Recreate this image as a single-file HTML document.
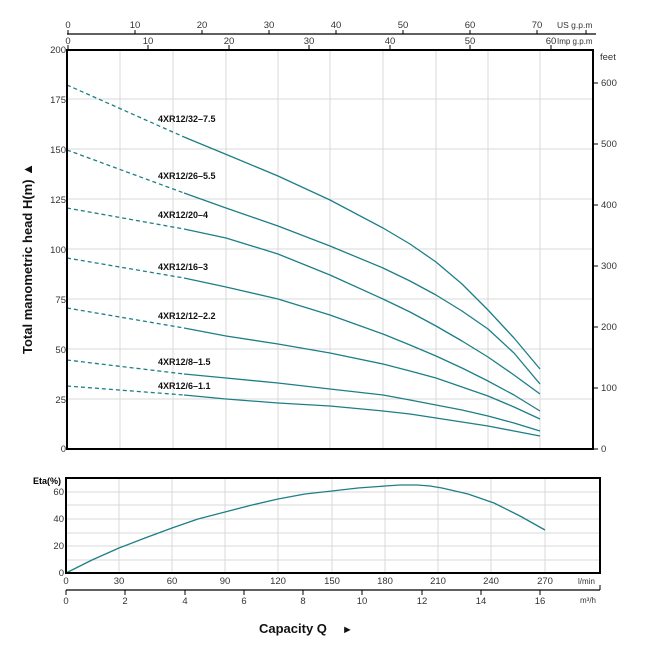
<!DOCTYPE html>
<html><head><meta charset="utf-8"><style>
html,body{margin:0;padding:0;background:#fff;}
svg{display:block;font-family:"Liberation Sans",Arial,sans-serif;}
</style></head><body>
<svg width="650" height="650" viewBox="0 0 650 650" xmlns="http://www.w3.org/2000/svg">
<g stroke="#d8d8d8" stroke-width="1" fill="none">
<path d="M120 49V449M173 49V449M226 49V449M278 49V449M330 49V449M383 49V449M436 49V449M488 49V449M540 49V449"/>
<path d="M67 99H593M67 149H593M67 199H593M67 249H593M67 299H593M67 349H593M67 399H593"/>
<path d="M119 478V573M172 478V573M225 478V573M278 478V573M332 478V573M385 478V573M438 478V573M491 478V573M545 478V573"/>
<path d="M66 492H600M66 505H600M66 519H600M66 533H600M66 546H600M66 560H600"/>
</g>
<g fill="none" stroke="#1d7f86" stroke-width="1.3" stroke-linejoin="round">
<g stroke-dasharray="4,3">
<path d="M67 85L184 137"/><path d="M67 150L184 193"/><path d="M67 208L184 229"/><path d="M67 258L184 278"/><path d="M67 308L184 328"/><path d="M67 360L184 374"/><path d="M67 386L184 395"/>
</g>
<polyline points="184,137 230,156 278,176 330,200 383,228 410,244 436,262 462,284 488,310 514,338 540,369"/>
<polyline points="184,193 226,208 278,226 330,246 383,268 410,281 436,295 462,311 488,329 514,353 540,384"/>
<polyline points="184,229 226,238 278,254 330,275 383,299 410,312 436,326 462,341 488,357 514,375 540,394"/>
<polyline points="184,278 226,287 278,299 330,315 383,334 410,345 436,356 462,368 488,381 514,395 540,411"/>
<polyline points="184,328 226,336 278,344 330,353 383,364 410,371 436,378 462,387 488,396 514,407 540,419"/>
<polyline points="184,374 226,378 278,383 330,389 383,395 410,400 436,405 462,410 488,416 514,423 540,431"/>
<polyline points="184,395 226,399 278,403 330,406 383,411 410,414 436,418 462,422 488,426 514,431 540,436"/>
<polyline points="66,573 92,560 119,548 145,538 172,528 198,519 225,512 252,505 278,499 305,494 332,491 358,488 385,486 400,485 417,485 430,486 442,488 468,494 494,503 520,516 545,530"/>
</g>
<g stroke="#000" fill="none">
<rect x="67" y="50" width="526" height="399" stroke-width="2"/>
<rect x="66" y="478" width="534" height="95" stroke-width="2"/>
<path d="M67 34H596" stroke-width="1.2"/>
<path d="M68 34V30M135 34V30M202 34V30M269 34V30M336 34V30M403 34V30M470 34V30M537 34V30M586 34V30"/>
<path d="M68 49V45M148 49V45M229 49V45M309 49V45M390 49V45M470 49V45M551 49V45"/>
<path d="M593 83H598M593 144H598M593 205H598M593 266H598M593 327H598M593 388H598M593 449H598"/>
<path d="M66 590H600" stroke-width="1.2"/>
<path d="M66 590V595M125 590V595M185 590V595M244 590V595M303 590V595M362 590V595M422 590V595M481 590V595M540 590V595M600 590V585"/>
</g>
<g font-size="9.5" fill="#333">
<g text-anchor="middle">
<text x="68" y="28">0</text><text x="135" y="28">10</text><text x="202" y="28">20</text><text x="269" y="28">30</text><text x="336" y="28">40</text><text x="403" y="28">50</text><text x="470" y="28">60</text><text x="537" y="28">70</text>
<text x="68" y="44">0</text><text x="148" y="44">10</text><text x="229" y="44">20</text><text x="309" y="44">30</text><text x="390" y="44">40</text><text x="470" y="44">50</text><text x="551" y="44">60</text>
<text x="66" y="584">0</text><text x="119" y="584">30</text><text x="172" y="584">60</text><text x="225" y="584">90</text><text x="278" y="584">120</text><text x="332" y="584">150</text><text x="385" y="584">180</text><text x="438" y="584">210</text><text x="491" y="584">240</text><text x="545" y="584">270</text>
<text x="66" y="604">0</text><text x="125" y="604">2</text><text x="185" y="604">4</text><text x="244" y="604">6</text><text x="303" y="604">8</text><text x="362" y="604">10</text><text x="422" y="604">12</text><text x="481" y="604">14</text><text x="540" y="604">16</text>
</g>
<text x="557" y="28" font-size="8.5">US g.p.m</text>
<text x="557" y="44" font-size="8">Imp g.p.m</text>
<text x="578" y="584" font-size="8">l/min</text>
<text x="580" y="603" font-size="8">m³/h</text>
<g text-anchor="end">
<text x="66" y="53">200</text><text x="66" y="103">175</text><text x="66" y="153">150</text><text x="66" y="203">125</text><text x="66" y="253">100</text><text x="66" y="303">75</text><text x="66" y="353">50</text><text x="66" y="403">25</text><text x="66" y="452">0</text>
<text x="64" y="495">60</text><text x="64" y="522">40</text><text x="64" y="549">20</text><text x="64" y="576">0</text>
</g>
<text x="600" y="60">feet</text>
<text x="601" y="86">600</text><text x="601" y="147">500</text><text x="601" y="208">400</text><text x="601" y="269">300</text><text x="601" y="330">200</text><text x="601" y="391">100</text><text x="601" y="452">0</text>
<text x="33" y="484" font-size="9" font-weight="bold" fill="#000">Eta(%)</text>
</g>
<g font-size="9" font-weight="bold" fill="#111">
<text x="158" y="122">4XR12/32–7.5</text>
<text x="158" y="179">4XR12/26–5.5</text>
<text x="158" y="218">4XR12/20–4</text>
<text x="158" y="270">4XR12/16–3</text>
<text x="158" y="319">4XR12/12–2.2</text>
<text x="158" y="365">4XR12/8–1.5</text>
<text x="158" y="389">4XR12/6–1.1</text>
</g>
<text transform="translate(32,354) rotate(-90)" font-size="13" font-weight="bold" fill="#111">Total manometric head H(m)  ▲</text>
<text x="259" y="633" font-size="13" font-weight="bold" fill="#111">Capacity Q</text>
<text x="342" y="633" font-size="11" fill="#111">►</text>
</svg>
</body></html>
